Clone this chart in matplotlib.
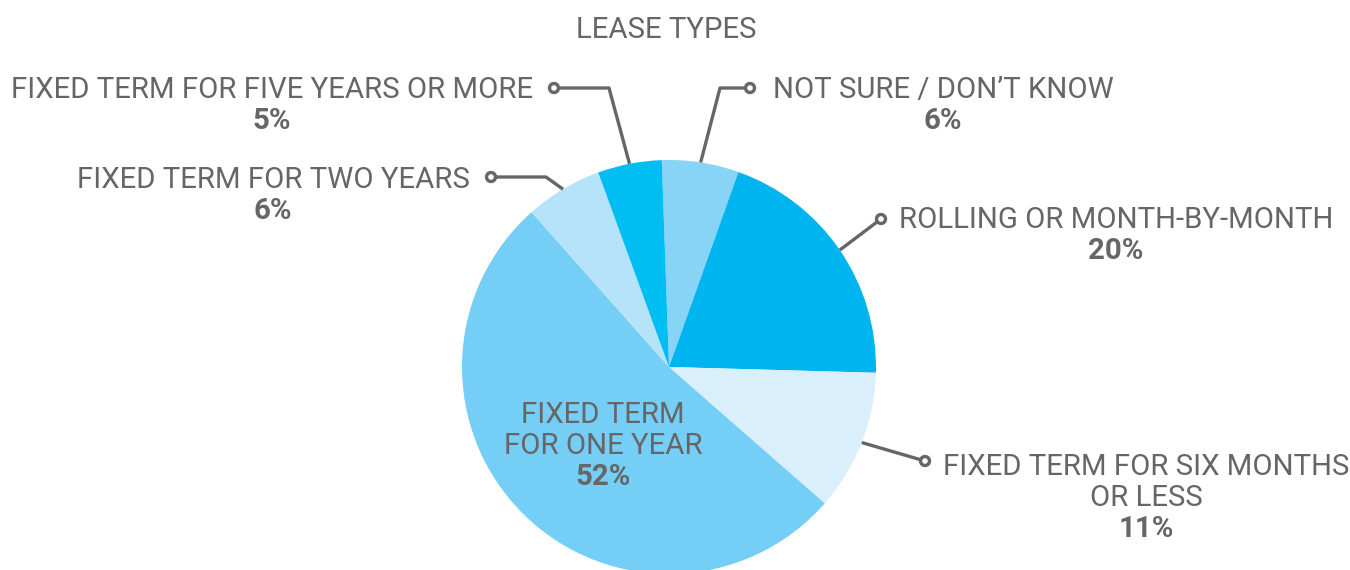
import numpy as np
import matplotlib.pyplot as plt
from matplotlib.patches import Circle

# data
labels = ["NOT SURE / DON\u2019T KNOW", "ROLLING OR MONTH-BY-MONTH",
          "FIXED TERM FOR SIX MONTHS\nOR LESS", "FIXED TERM\nFOR ONE YEAR",
          "FIXED TERM FOR TWO YEARS", "FIXED TERM FOR FIVE YEARS OR MORE"]
values = [6, 20, 11, 52, 6, 5]
colors = ["#87D4F7", "#00B4F0", "#D9F0FC", "#75CEF5", "#B5E3F9", "#00BEF2"]

W, H = 1350, 570
TXT = "#666666"
plt.rcParams['font.family'] = ['Roboto', 'DejaVu Sans']

fig = plt.figure(figsize=(W / 100, H / 100), dpi=100)
ax = fig.add_axes([0, 0, 1, 1])

cx, cy, R = 669, H - 367, 207
wedges, _ = ax.pie(values, colors=colors, startangle=92, counterclock=False,
                   center=(cx, cy), radius=R, wedgeprops=dict(linewidth=0))
ax.set_xlim(0, W)
ax.set_ylim(0, H)
ax.set_aspect('equal')
ax.axis('off')

fs = 21.2
dy = 2  # small baseline nudge


def label(x, y, name, pct):
    lines = name.split("\n")
    for i, ln in enumerate(lines):
        ax.text(x, H - (y + dy + 31 * i), ln, ha='center', va='center',
                fontsize=fs, color=TXT)
    ax.text(x, H - (y + dy + 31 * len(lines)), pct, ha='center', va='center',
            fontsize=fs, color=TXT, fontweight='bold')


def leader(i, pts):
    w = wedges[i]
    mid = np.deg2rad((w.theta1 + w.theta2) / 2)
    ex, ey = cx + R * np.cos(mid), cy + R * np.sin(mid)
    xs = [ex] + [p[0] for p in pts]
    ys = [ey] + [H - p[1] for p in pts]
    ax.plot(xs, ys, color=TXT, lw=2.4, solid_capstyle='butt', zorder=3)
    ax.add_patch(Circle((xs[-1], ys[-1]), 4.5, facecolor='white',
                        edgecolor=TXT, lw=2.4, zorder=4))


ax.text(666, H - 30, "LEASE TYPES", ha='center', va='center', fontsize=fs, color=TXT)

# label positions (pixels from top-left)
label(943, 88, labels[0], f"{values[0]}%")
leader(0, [(720, 88), (750, 88)])

label(1116, 218, labels[1], f"{values[1]}%")
leader(1, [(881, 219)])

label(1146, 465, labels[2], f"{values[2]}%")
leader(2, [(925, 461)])

label(603, 413, labels[3], f"{values[3]}%")

label(273, 178, labels[4], f"{values[4]}%")
leader(4, [(546, 177), (491, 177)])

label(272, 88, labels[5], f"{values[5]}%")
leader(5, [(609, 88), (554, 88)])

fig.savefig("out.png", dpi=100, facecolor='white')
